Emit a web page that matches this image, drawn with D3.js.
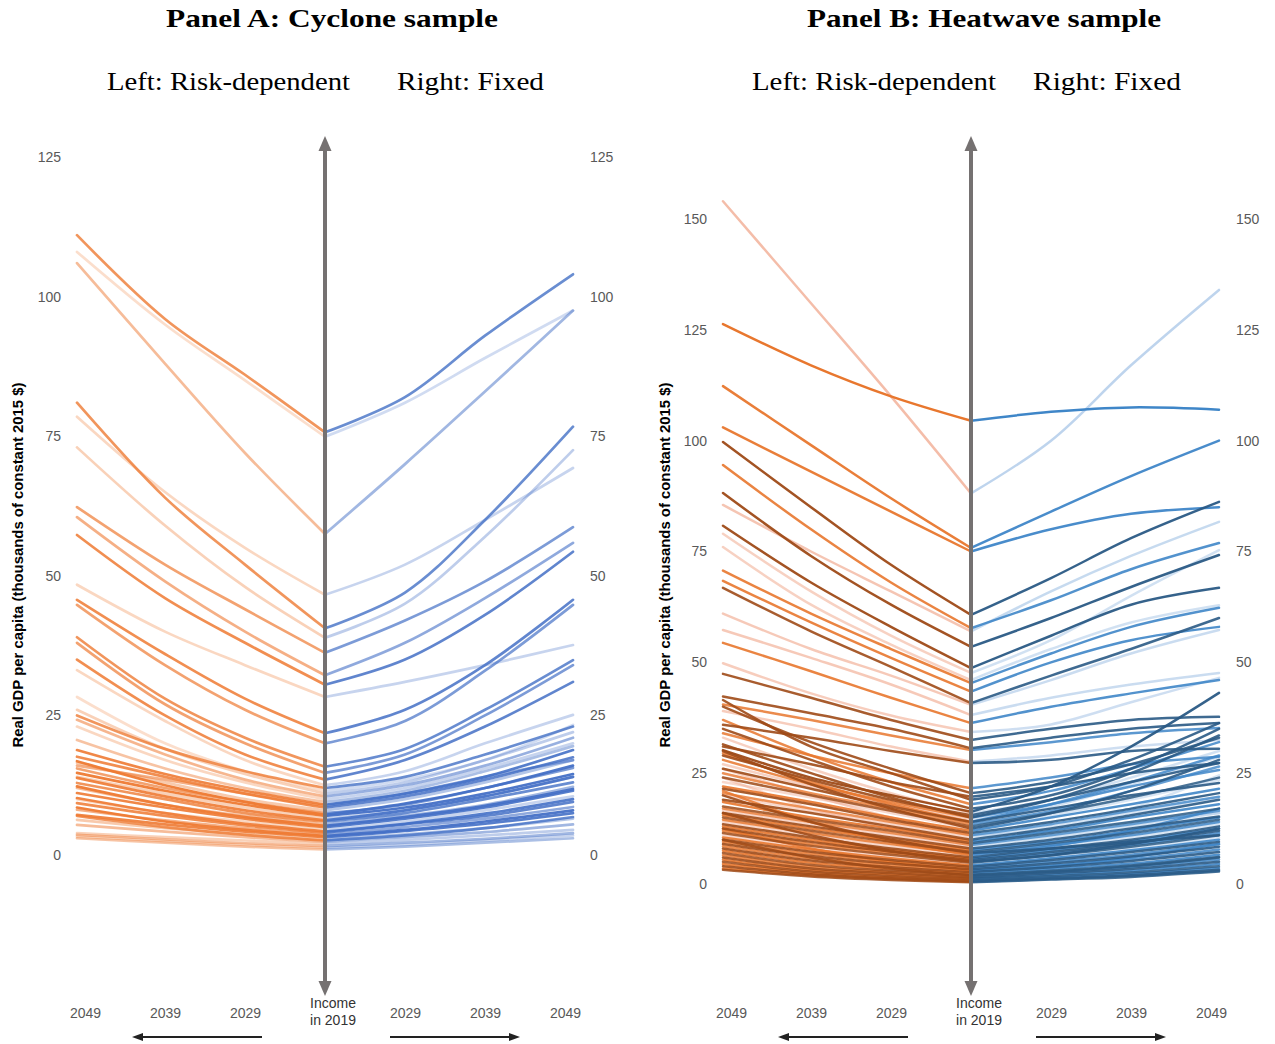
<!DOCTYPE html>
<html>
<head>
<meta charset="utf-8">
<script src="https://cdn.jsdelivr.net/npm/d3@7/dist/d3.min.js"></script>
<style>
  body { margin: 0; background: #fff; }
  svg text { font-family: "Liberation Sans", Arial, sans-serif; }
  .serif { font-family: "Liberation Serif", "DejaVu Serif", serif; fill: #000; }
</style>
</head>
<body>
<div class="chart"></div>
<script>
// Years on the horizontal axes (lines run from 2019 out to 2050)
var outYears = [2029, 2039, 2050];
var yearTicks = [2029, 2039, 2049];

// Panel A: cyclone sample -- income in 2019, risk-dependent path, fixed path, line opacity
var cycloneTicks = [0, 25, 50, 75, 100, 125];
var cycloneStart = [75.7, 74.9, 57.5, 46.6, 40.6, 38.9, 36.2, 32.2, 30.5, 28.3, 21.8, 20.0, 15.8, 14.7, 13.5, 12.5,
  11.5, 11, 10.5, 10, 9.5, 9, 8.5, 8, 7.5, 7, 6.5, 6, 5.5, 5, 4.5, 4, 3.6, 3.2, 2.8, 2.4, 2.0, 1.6, 1.3, 1.0,
  7.2, 6.2, 5.2, 4.2, 3.4, 8.8, 12, 2.6];
var cycloneRisk = [[86, 96, 111], [85, 95, 108], [72, 88, 106], [55, 65, 78.5], [52, 64, 81], [48, 59, 73],
  [44, 52, 62.3], [40, 49, 60.5], [38, 46, 57.3], [34, 40, 48.4], [28, 36, 45.7], [26, 34, 44.8], [21, 28, 39],
  [20, 27, 38], [18, 25, 35], [17, 24, 33.1],
  [15, 20, 28.3], [14.5, 19, 26], [13.5, 18, 24.2], [13, 17, 23], [12, 15.5, 20.6], [11.5, 14.5, 18.8],
  [11, 14, 17.6], [10, 13, 16.5], [9.5, 12, 15.5], [9, 11.5, 14.7], [8.5, 11, 14], [7.5, 10, 12.9],
  [7, 9, 12], [6.5, 8.5, 11.1], [6, 7.5, 10], [5.3, 7, 9.3], [4.8, 6.2, 8.1], [4.2, 5.5, 7.2],
  [3.7, 4.8, 6.3], [3.2, 4.2, 5.4], [2.6, 3.2, 3.9], [2.1, 2.8, 3.6], [1.8, 2.5, 3.3], [1.5, 2.2, 3.0],
  [9.5, 12.5, 16.8], [8, 10.5, 13.8], [6.8, 9, 12.3], [5.6, 7.5, 10.2], [4.5, 6, 8.5], [11, 13.5, 16],
  [15, 19, 25], [3.6, 5, 7]];
var cycloneFixed = [[82, 93, 104], [81, 89, 97.5], [70, 83, 97.5], [52, 60, 69.3], [47, 60, 76.7], [45, 57, 72.5],
  [42, 49, 58.7], [38, 46, 55.9], [35, 43, 54.3], [31, 34, 37.6], [26, 34, 45.7], [24, 33, 44.8], [19, 26, 34.9],
  [18, 25, 34], [17, 23, 31], [15, 20, 25.1],
  [13.5, 17, 23.3], [13, 17, 22], [12.5, 16, 21], [12, 15.5, 20], [11.5, 15, 19.5], [11, 14, 18.8],
  [10.5, 13.5, 17.5], [10, 13, 17], [9, 12, 15.6], [8.5, 11, 14.5], [8, 10.5, 14], [7.5, 10, 13],
  [7, 9, 12.2], [6.5, 8.5, 11.5], [6, 8, 10.5], [5.5, 7, 9.5], [5, 6.5, 8.6], [4.3, 5.6, 7.5],
  [3.7, 4.8, 6.5], [3.2, 4.1, 5.5], [2.7, 3.5, 4.5], [2.2, 2.9, 3.9], [1.8, 2.6, 3.5], [1.5, 2.2, 3.0],
  [9.2, 12, 16], [8, 10.5, 14], [6.8, 8.8, 11.8], [5.6, 7.4, 10], [4.5, 6, 8], [11, 14, 17],
  [14, 18, 23], [3.5, 4.8, 6.8]];
var cycloneAlpha = [0.8, 0.25, 0.5, 0.3, 0.8, 0.35, 0.7, 0.6, 0.85, 0.3, 0.85, 0.7, 0.8, 0.7, 0.85, 0.3,
  0.25, 0.35, 0.55, 0.3, 0.45, 0.9, 0.85, 0.4, 0.7, 0.95, 0.35, 0.8, 0.5, 0.9, 0.3, 0.85, 0.6, 0.9,
  0.4, 0.5, 0.35, 0.5, 0.3, 0.45, 0.95, 0.9, 0.95, 0.9, 0.95, 0.6, 0.8, 0.8];

// Panel B: heatwave sample -- shade 0 light, 1 mid, 2 dark
var heatTicks = [0, 25, 50, 75, 100, 125, 150];
var heatStart = [88.1, 104.5, 75.8, 75, 60.7, 57.7, 53.5, 57.0, 48.7, 47.6, 46.0, 45.3, 43.4, 40.8, 40.4, 38.1,
  36.3, 34.3, 32.5, 30.6, 30.2, 27.6, 27.3, 21.6, 19.7, 16.3,
  15.5, 15.0, 14.5, 14.0, 13.5, 13.0, 12.5, 12.0, 11.5, 11.0, 10.5, 10.0, 9.6, 9.2, 8.8, 8.4, 8.0, 7.6, 7.2,
  6.8, 6.4, 6.0, 5.7, 5.4, 5.1, 4.8, 4.5, 4.2, 3.9, 3.6, 3.3, 3.0, 2.7, 2.4, 2.1, 1.8, 1.5, 1.3, 1.1, 0.9,
  0.7, 0.5, 0.4, 11, 7, 5, 3, 2,
  20.5, 19.0, 18.0, 17.0, 16.0, 15.0, 14.0, 12.5, 9.0, 6.5];
var heatRisk = [[110, 131, 154], [110, 117, 126.3], [87, 99, 112.3], [84, 93, 103], [72, 85, 99.7], [68, 80, 94.5],
  [63, 74, 88.2], [66, 75, 85.5], [58, 68, 80.8], [56, 66, 79], [54, 63, 76], [53, 61, 70.7], [51, 59, 68.4],
  [49, 57, 66.8], [47, 53, 61], [45, 51, 57.3], [42, 48, 54.4], [38, 43, 49.8], [37, 42, 47.4], [35, 38.5, 42.3],
  [33.5, 37, 40.5], [31, 35, 39], [30, 33, 35.9], [25, 29, 34], [23, 27, 31], [20, 24, 30.2],
  [19, 23.5, 29], [18.5, 22.5, 28], [18, 22, 27], [17.5, 21.5, 26], [17, 20.5, 25], [16.5, 20, 24],
  [16, 19.5, 23], [15, 18.5, 22], [14.5, 18, 21.5], [14, 17, 20.5], [13.5, 16.5, 20], [13, 16, 19],
  [12.5, 15, 18.5], [12, 14.5, 17.5], [11.5, 14, 17], [11, 13.5, 16.5], [10.5, 13, 16], [10, 12.5, 15.5],
  [9.5, 12, 15], [9, 11.5, 14.5], [8.5, 11, 14], [8, 10.5, 13.5], [7.6, 10, 13], [7.3, 9.5, 12.5],
  [7, 9, 12], [6.6, 8.6, 11.5], [6.2, 8.2, 11], [5.8, 7.8, 10.5], [5.4, 7.3, 10], [5, 6.8, 9.5],
  [4.6, 6.3, 9], [4.2, 5.8, 8.5], [3.8, 5.3, 8], [3.4, 4.8, 7.5], [3, 4.3, 7], [2.7, 3.9, 6.5],
  [2.4, 3.5, 6], [2.1, 3.1, 5.5], [1.8, 2.8, 5], [1.5, 2.5, 4.5], [1.3, 2.2, 4], [1.1, 1.9, 3.5],
  [0.9, 1.7, 3.2], [15, 20, 26], [10, 14, 20], [7.5, 11, 16], [5, 8, 12.5], [3.5, 6, 10],
  [26, 32, 40], [25, 31, 41.5], [23, 29, 37], [22, 28, 35], [20.5, 26, 33], [19.5, 25, 31.5],
  [18, 23, 29.5], [17, 22.5, 30], [12.5, 17, 24], [9.5, 14, 21]];
var heatFixed = [[100, 117, 134], [106.5, 107.5, 107], [84, 92, 100], [80, 83.5, 85], [69, 78, 86.2], [64, 71, 76.9],
  [60, 67, 74.2], [66, 74, 81.7], [56, 63, 66.8], [55, 65, 75.3], [53, 59, 62.9], [52, 58, 62.3], [50, 55, 58],
  [47, 53, 60], [46, 52, 57.3], [42, 45, 47.6], [40, 43, 46], [36, 41, 46.5], [35, 37, 37.7], [33, 35, 36.3],
  [32, 34, 35.2], [29, 31, 32.5], [28, 30, 30.5], [24, 27, 28.7], [22, 25, 27.3], [22, 31, 43.1],
  [19, 23, 27.3], [18, 22, 25.7], [17.5, 22.5, 28.7], [17, 20, 22.8], [16.5, 21, 26.5], [16, 19.5, 24],
  [15.5, 19, 23.5], [15, 18, 21.5], [14, 17, 20.5], [13.5, 16.5, 19.7], [13, 16, 19.5], [12.5, 15.5, 19],
  [12, 15, 18], [11.5, 14, 17], [11, 13.5, 16.5], [10.5, 13, 16], [10, 12.5, 15.2], [9.5, 12, 15],
  [9.2, 11.5, 14.5], [8.8, 11, 14], [8.4, 10.5, 13.5], [8, 10, 13], [7.6, 9.6, 12.5], [7.2, 9.2, 12],
  [6.8, 8.8, 11.5], [6.5, 8.4, 11], [6.2, 8, 10.5], [5.8, 7.6, 10], [5.4, 7.2, 9.5], [5, 6.6, 9],
  [4.6, 6.2, 8.4], [4.2, 5.6, 7.8], [3.8, 5.2, 7.2], [3.4, 4.6, 6.6], [3, 4.2, 6.1], [2.7, 3.8, 5.5],
  [2.4, 3.4, 5], [2.1, 3, 4.5], [1.8, 2.6, 4], [1.5, 2.3, 3.6], [1.3, 2, 3.2], [1.1, 1.8, 3.0],
  [1.0, 1.6, 2.8], [12, 14, 16], [8, 9.5, 11], [6.5, 9, 12.5], [4, 6, 9], [2.8, 4, 6],
  [23, 27, 33], [22, 28, 36.3], [21, 26, 32], [20, 26, 35], [19, 24, 30], [19, 25, 33.5],
  [18, 23, 29], [16, 21, 28], [12, 17, 24.5], [8.5, 12, 17]];
var heatShade = [0, 1, 1, 1, 2, 1, 2, 0, 2, 0, 0, 1, 1, 2, 0, 0, 1, 0, 2, 2, 1, 0, 2, 1, 2, 2,
  2, 1, 0, 2, 1, 2, 0, 1, 2, 1, 0, 2, 1, 2, 1, 0, 2, 1, 2, 1, 0, 2, 1, 2, 1, 2, 0, 1, 2, 1, 2, 1, 2, 1,
  2, 1, 2, 1, 2, 1, 2, 1, 2, 0, 2, 2, 1, 2,
  2, 2, 1, 2, 0, 2, 1, 2, 0, 1];
var heatAlpha = [0.85, 1, 0.95, 0.95, 0.95, 0.9, 0.95, 0.75, 0.95, 0.6, 0.6, 0.9, 0.9, 0.9, 0.7, 0.7,
  0.9, 0.65, 0.9, 0.9, 0.85, 0.65, 0.9, 0.85, 0.9, 0.95,
  0.9, 0.85, 0.6, 0.9, 0.8, 0.85, 0.5, 0.9, 0.9, 0.8, 0.5, 0.9, 0.9, 0.85, 0.8, 0.55, 0.9, 0.9, 0.85,
  0.85, 0.5, 0.9, 0.9, 0.9, 0.85, 0.85, 0.5, 0.9, 0.9, 0.85, 0.9, 0.85, 0.9, 0.9, 0.85, 0.85, 0.9, 0.9,
  0.85, 0.9, 0.9, 0.9, 0.85, 0.6, 0.9, 0.9, 0.85, 0.85,
  0.9, 0.9, 0.85, 0.9, 0.6, 0.9, 0.85, 0.9, 0.55, 0.85];

var svgWidth = 1275;
var svgHeight = 1044;

var svg = d3.select(".chart")
  .append("svg")
  .attr("width", svgWidth)
  .attr("height", svgHeight);

var heatLeftColors = ["#F2B29A", "#E8772E", "#9E4A17"];
var heatRightColors = ["#B3CDEA", "#3F86C8", "#2A5A85"];

var panels = [
  {
    title: "Panel A: Cyclone sample", titleX: 166, titleW: 332,
    leftSubX: 107, leftSubW: 243, rightSubX: 397, rightSubW: 147,
    center: 325, y0: 855, yTop: 157, max: 125, ticks: cycloneTicks,
    leftTickX: 61, rightTickX: 590, labelX: 23,
    start: cycloneStart, risk: cycloneRisk, fixed: cycloneFixed,
    leftColor: function(i) { return "#EE7A33"; },
    rightColor: function(i) { return "#4470C6"; },
    alpha: cycloneAlpha, width: 2.7,
    order: d3.range(cycloneStart.length).sort(function(a, b) { return cycloneAlpha[a] - cycloneAlpha[b]; })
  },
  {
    title: "Panel B: Heatwave sample", titleX: 807, titleW: 354,
    leftSubX: 752, leftSubW: 244, rightSubX: 1033, rightSubW: 148,
    center: 971, y0: 884, yTop: 219, max: 150, ticks: heatTicks,
    leftTickX: 707, rightTickX: 1236, labelX: 670,
    start: heatStart, risk: heatRisk, fixed: heatFixed,
    leftColor: function(i) { return heatLeftColors[heatShade[i]]; },
    rightColor: function(i) { return heatRightColors[heatShade[i]]; },
    alpha: heatAlpha, width: 2.5,
    order: d3.range(heatStart.length).sort(function(a, b) { return heatShade[a] - heatShade[b] || heatAlpha[a] - heatAlpha[b]; })
  }
];

panels.forEach(function(p) {
  var g = svg.append("g");

  // Titles (stretched to the widths of the original serif lettering)
  g.append("text")
    .attr("class", "serif")
    .attr("x", p.titleX)
    .attr("y", 27)
    .attr("textLength", p.titleW)
    .attr("lengthAdjust", "spacingAndGlyphs")
    .style("font-size", "26px")
    .style("font-weight", "bold")
    .text(p.title);
  g.append("text")
    .attr("class", "serif")
    .attr("x", p.leftSubX)
    .attr("y", 90)
    .attr("textLength", p.leftSubW)
    .attr("lengthAdjust", "spacingAndGlyphs")
    .style("font-size", "26px")
    .text("Left:  Risk-dependent");
  g.append("text")
    .attr("class", "serif")
    .attr("x", p.rightSubX)
    .attr("y", 90)
    .attr("textLength", p.rightSubW)
    .attr("lengthAdjust", "spacingAndGlyphs")
    .style("font-size", "26px")
    .text("Right:  Fixed");

  // Scales: 8 px per year on each side of the centre
  var y = d3.scaleLinear().domain([0, p.max]).range([p.y0, p.yTop]);
  var xLeft = d3.scaleLinear().domain([2019, 2050]).range([p.center, p.center - 248]);
  var xRight = d3.scaleLinear().domain([2019, 2050]).range([p.center, p.center + 248]);

  var years = [2019].concat(outYears);
  var lineLeft = d3.line()
    .x(function(d) { return xLeft(d[0]); })
    .y(function(d) { return y(d[1]); })
    .curve(d3.curveCatmullRom.alpha(0.5));
  var lineRight = d3.line()
    .x(function(d) { return xRight(d[0]); })
    .y(function(d) { return y(d[1]); })
    .curve(d3.curveCatmullRom.alpha(0.5));

  function pts(i, arr) {
    var vals = [p.start[i]].concat(arr[i]);
    return years.map(function(yr, k) { return [yr, vals[k]]; });
  }

  // Risk-dependent lines (left)
  g.append("g").selectAll("path")
    .data(p.order)
    .enter()
    .append("path")
    .attr("d", function(i) { return lineLeft(pts(i, p.risk)); })
    .attr("fill", "none")
    .attr("stroke", function(i) { return p.leftColor(i); })
    .attr("stroke-opacity", function(i) { return p.alpha[i]; })
    .attr("stroke-width", p.width)
    .attr("stroke-linecap", "round");

  // Fixed lines (right)
  g.append("g").selectAll("path")
    .data(p.order)
    .enter()
    .append("path")
    .attr("d", function(i) { return lineRight(pts(i, p.fixed)); })
    .attr("fill", "none")
    .attr("stroke", function(i) { return p.rightColor(i); })
    .attr("stroke-opacity", function(i) { return p.alpha[i]; })
    .attr("stroke-width", p.width)
    .attr("stroke-linecap", "round");

  // Y tick labels on both sides
  var leftAxis = g.append("g")
    .attr("transform", "translate(" + p.leftTickX + ",0)")
    .call(d3.axisLeft(y).tickValues(p.ticks).tickSize(0).tickPadding(0));
  var rightAxis = g.append("g")
    .attr("transform", "translate(" + p.rightTickX + ",0)")
    .call(d3.axisRight(y).tickValues(p.ticks).tickSize(0).tickPadding(0));
  [leftAxis, rightAxis].forEach(function(ax) {
    ax.select(".domain").remove();
    ax.selectAll("text")
      .style("font-size", "14px")
      .style("font-family", "'Liberation Sans', Arial, sans-serif")
      .attr("fill", "#595959");
  });

  // Year labels along the bottom
  [xLeft, xRight].forEach(function(xs) {
    var ax = g.append("g")
      .attr("transform", "translate(0,1008)")
      .call(d3.axisBottom(xs).tickValues(yearTicks).tickFormat(d3.format("d")).tickSize(0).tickPadding(0));
    ax.select(".domain").remove();
    ax.selectAll("text")
      .style("font-size", "14px")
      .style("font-family", "'Liberation Sans', Arial, sans-serif")
      .attr("fill", "#595959");
  });

  g.append("text")
    .attr("x", p.center + 8)
    .attr("y", 1008)
    .attr("text-anchor", "middle")
    .style("font-size", "14px")
    .attr("fill", "#333")
    .text("Income");
  g.append("text")
    .attr("x", p.center + 8)
    .attr("y", 1025)
    .attr("text-anchor", "middle")
    .style("font-size", "14px")
    .attr("fill", "#333")
    .text("in 2019");

  // Y-axis label
  g.append("text")
    .attr("transform", "translate(" + p.labelX + ",565) rotate(-90)")
    .attr("text-anchor", "middle")
    .attr("textLength", 365)
    .attr("lengthAdjust", "spacingAndGlyphs")
    .style("font-size", "14px")
    .style("font-weight", "bold")
    .attr("fill", "#000")
    .text("Real GDP per capita (thousands of constant 2015 $)");

  // Central double-headed arrow
  g.append("line")
    .attr("x1", p.center).attr("x2", p.center)
    .attr("y1", 148).attr("y2", 984)
    .attr("stroke", "#757171")
    .attr("stroke-width", 4);
  g.append("path")
    .attr("d", "M" + p.center + ",136 L" + (p.center - 6.5) + ",151 L" + (p.center + 6.5) + ",151 Z")
    .attr("fill", "#757171");
  g.append("path")
    .attr("d", "M" + p.center + ",996 L" + (p.center - 6.5) + ",981 L" + (p.center + 6.5) + ",981 Z")
    .attr("fill", "#757171");

  // Direction arrows under the year labels
  var ay = 1037;
  g.append("line")
    .attr("x1", p.center - 63).attr("x2", p.center - 184)
    .attr("y1", ay).attr("y2", ay)
    .attr("stroke", "#222").attr("stroke-width", 2);
  g.append("path")
    .attr("d", "M" + (p.center - 193) + "," + ay + " L" + (p.center - 182) + "," + (ay - 4) + " L" + (p.center - 182) + "," + (ay + 4) + " Z")
    .attr("fill", "#222");
  g.append("line")
    .attr("x1", p.center + 65).attr("x2", p.center + 186)
    .attr("y1", ay).attr("y2", ay)
    .attr("stroke", "#222").attr("stroke-width", 2);
  g.append("path")
    .attr("d", "M" + (p.center + 195) + "," + ay + " L" + (p.center + 184) + "," + (ay - 4) + " L" + (p.center + 184) + "," + (ay + 4) + " Z")
    .attr("fill", "#222");
});
</script>
</body>
</html>
